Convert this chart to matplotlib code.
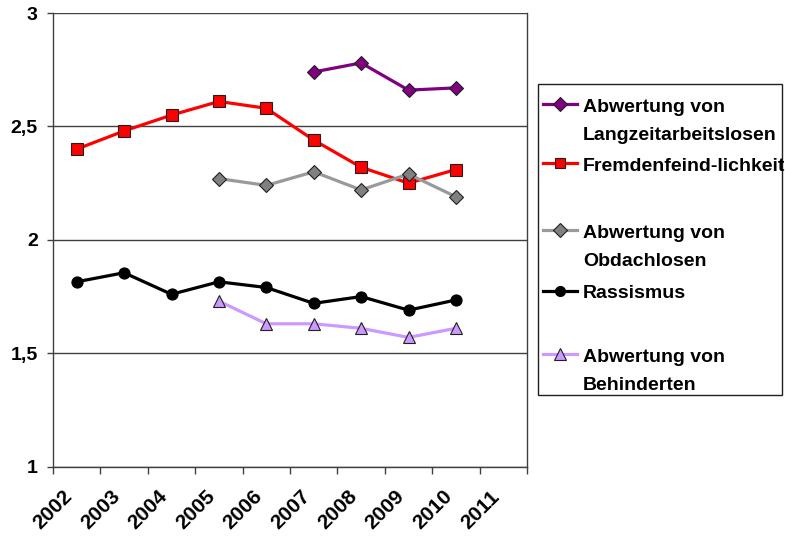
import matplotlib
matplotlib.use("Agg")
import matplotlib.pyplot as plt
from matplotlib.lines import Line2D
from matplotlib.patches import Rectangle
from matplotlib.transforms import ScaledTranslation
import numpy as np

plt.rcParams['font.family'] = ['Liberation Sans', 'DejaVu Sans']
plt.rcParams['font.weight'] = 'bold'

years = ["2002", "2003", "2004", "2005", "2006", "2007", "2008", "2009", "2010", "2011"]
nan = np.nan
langzeit = [nan, nan, nan, nan, nan, 2.74, 2.78, 2.66, 2.67, nan]
fremden = [2.40, 2.48, 2.55, 2.61, 2.58, 2.44, 2.32, 2.25, 2.31, nan]
obdach = [nan, nan, nan, 2.27, 2.24, 2.30, 2.22, 2.29, 2.19, nan]
rassismus = [1.815, 1.855, 1.76, 1.815, 1.79, 1.72, 1.75, 1.69, 1.735, nan]
behind = [nan, nan, nan, 1.73, 1.63, 1.63, 1.61, 1.57, 1.61, nan]

labels = ["Abwertung von\nLangzeitarbeitslosen", "Fremdenfeind-lichkeit",
          "Abwertung von\nObdachlosen", "Rassismus", "Abwertung von\nBehinderten"]
yticks = [1, 1.5, 2, 2.5, 3]
ytick_labels = ["1", "1,5", "2", "2,5", "3"]

W, H = 785, 537
fig = plt.figure(figsize=(W / 100, H / 100), dpi=100)
ax = fig.add_axes([53 / W, 1 - 466.7 / H, (527 - 53) / W, (466.7 - 13) / H])

x = np.arange(len(years))
styles = [
    dict(color="#800080", marker="D", mfc="#800080", mec="#202020", ms=7.5),
    dict(color="#FF0000", marker="s", mfc="#FF0000", mec="#202020", ms=8),
    dict(color="#999999", marker="D", mfc="#808080", mec="#202020", ms=7.5),
    dict(color="#000000", marker="o", mfc="#000000", mec="#000000", ms=8),
    dict(color="#CC99FF", marker="^", mfc="#CC99FF", mec="#202020", ms=9),
]
series = [langzeit, fremden, obdach, rassismus, behind]
for s, st in zip(series, styles):
    ax.plot(x, s, lw=2.3, mew=0.8, zorder=3, **st)

ax.set_xlim(-0.5, len(years) - 0.5)
ax.set_ylim(1, 3)
ax.set_yticks(yticks)
ax.set_yticklabels(ytick_labels, fontsize=14, fontweight='bold')
ax.yaxis.grid(True, color="#404040", lw=1.0)
ax.set_axisbelow(True)
ax.tick_params(axis='y', length=4, width=1, color="#404040", pad=7)

ax.set_xticks(np.arange(-0.5, len(years)), minor=False)
ax.set_xticklabels([""] * (len(years) + 1))
ax.tick_params(axis='x', which='major', length=5, width=1, color="#404040")
ax.set_xticks(x, minor=True)
ax.set_xticklabels(years, minor=True, rotation=45, ha='right', va='center',
                   rotation_mode='anchor', fontsize=15, fontweight='bold')
ax.tick_params(axis='x', which='minor', length=0, pad=20)
shift = ScaledTranslation(-7 / 100, 1 / 100, fig.dpi_scale_trans)
for lbl in ax.get_xticklabels(minor=True):
    lbl.set_transform(lbl.get_transform() + shift)

for sp in ax.spines.values():
    sp.set_color("#404040")
    sp.set_linewidth(1.0)
ax.spines['top'].set_visible(False)

# legend drawn manually
def fx(px):
    return px / W

def fy(py):
    return 1 - py / H

fig.add_artist(Rectangle((fx(537.5), fy(395)), fx(782) - fx(537.5), fy(84) - fy(395),
                         transform=fig.transFigure, fill=False, ec="#202020", lw=1.0))
rows = [104, 163, 230, 291, 354]
line_gap = 28
for lab, st, yy in zip(labels, styles, rows):
    fig.add_artist(Line2D([fx(543), fx(577)], [fy(yy), fy(yy)], transform=fig.transFigure,
                          color=st["color"], lw=2.3))
    fig.add_artist(Line2D([fx(560)], [fy(yy)], transform=fig.transFigure, linestyle='none',
                          marker=st["marker"], mfc=st["mfc"], mec=st["mec"],
                          ms=st["ms"] * 0.9, mew=0.8))
    for i, part in enumerate(lab.split("\n")):
        fig.text(fx(583), fy(yy + 7.5 + i * line_gap), part, transform=fig.transFigure,
                 ha='left', va='baseline', fontsize=14, fontweight='bold')

fig.savefig("out.png", dpi=100)
